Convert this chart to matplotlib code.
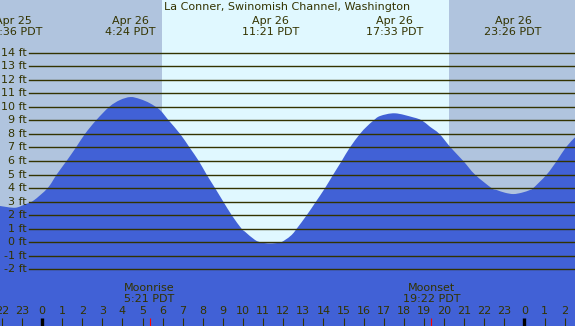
import matplotlib
matplotlib.use("Agg")
import matplotlib.pyplot as plt
import matplotlib.transforms as mtransforms
from matplotlib.path import Path
from matplotlib.patches import PathPatch

# ---- data (hours relative to Apr 26 00:00 PDT, heights in ft) ----
tide_hours = [-2.09, -1.34, -0.85, -0.43, 0.28, 0.73, 1.22, 1.69, 2.14, 2.69,
              3.35, 3.88, 4.40, 4.88, 5.37, 5.87, 6.30, 6.87, 7.34, 7.80,
              8.19, 8.61, 9.02, 9.44, 9.93, 10.10, 10.60, 10.93, 11.35, 11.84,
              12.09, 12.42, 12.67, 13.17, 13.63, 14.08, 14.49, 14.91, 15.32, 15.82,
              16.15, 16.48, 16.82, 17.56, 18.47, 18.89, 19.30, 19.77, 20.33, 20.96,
              21.54, 22.37, 22.62, 23.03, 23.45, 23.87, 24.28, 24.44, 25.11, 25.61,
              26.06, 26.52]
tide_ft = [2.68, 2.55, 2.80, 3.07, 4.0, 5.0, 6.0, 7.0, 8.0, 9.0,
           10.0, 10.5, 10.72, 10.57, 10.26, 9.76, 9.0, 8.0, 7.0, 6.0,
           5.0, 4.0, 3.0, 2.0, 1.0, 0.78, 0.17, -0.02, -0.08, -0.02,
           0.17, 0.54, 1.0, 2.0, 3.0, 4.0, 5.0, 6.0, 7.0, 8.0,
           8.53, 8.97, 9.32, 9.52, 9.22, 9.0, 8.53, 8.0, 7.0, 6.0,
           5.0, 4.0, 3.86, 3.66, 3.56, 3.66, 3.86, 4.0, 5.0, 6.0,
           7.0, 7.75]

extreme_hours = [-1.40, 4.40, 11.35, 17.55, 23.43]
extreme_labels = ["Apr 25\n22:36 PDT", "Apr 26\n4:24 PDT", "Apr 26\n11:21 PDT",
                  "Apr 26\n17:33 PDT", "Apr 26\n23:26 PDT"]

ft_levels = list(range(-2, 15))
hour_ticks = list(range(-2, 27))
sunrise, sunset = 5.97, 20.25
moon_hours = [5.35, 19.37]
moon_labels = ["Moonrise\n5:21 PDT", "Moonset\n19:22 PDT"]
title = "La Conner, Swinomish Channel, Washington"

# ---- layout ----
W, H = 575, 326
X0, PXH = 42.0, 20.1        # pixel x of hour 0, pixels per hour
Y0, PXF = 242.3, 13.55      # pixel y of 0 ft, pixels per ft

NIGHT = "#b0c4de"
DAY = "#e0f8ff"
WATER = "#4161d6"
INK = "#333300"

fig = plt.figure(figsize=(W / 100, H / 100), dpi=100)
ax = fig.add_axes([0, 0, 1, 1])
ax.set_xlim(-X0 / PXH, (W - X0) / PXH)
ax.set_ylim(-(H - Y0) / PXF, Y0 / PXF)
ax.axis("off")
fig.patch.set_facecolor(NIGHT)
ax.set_facecolor(NIGHT)

def fy(ypix):
    return 1 - ypix / H

blend = mtransforms.blended_transform_factory(ax.transData, ax.transAxes)

ax.axvspan(-10, sunrise, color=NIGHT, lw=0, zorder=0)
ax.axvspan(sunrise, sunset, color=DAY, lw=0, zorder=0)
ax.axvspan(sunset, 40, color=NIGHT, lw=0, zorder=0)

# smooth tide area: cubic Bezier path through the read points
pts = list(zip(tide_hours, tide_ft))
n = len(pts)
verts = [pts[0]]
codes = [Path.MOVETO]
for i in range(n - 1):
    p0 = pts[i - 1] if i > 0 else pts[i]
    p1 = pts[i]
    p2 = pts[i + 1]
    p3 = pts[i + 2] if i + 2 < n else pts[i + 1]
    c1 = (p1[0] + (p2[0] - p0[0]) / 6, p1[1] + (p2[1] - p0[1]) / 6)
    c2 = (p2[0] - (p3[0] - p1[0]) / 6, p2[1] - (p3[1] - p1[1]) / 6)
    verts += [c1, c2, p2]
    codes += [Path.CURVE4] * 3
verts += [(tide_hours[-1], -20), (tide_hours[0], -20), pts[0]]
codes += [Path.LINETO, Path.LINETO, Path.CLOSEPOLY]
ax.add_patch(PathPatch(Path(verts, codes), facecolor=WATER, lw=0, zorder=1))

for lv in ft_levels:
    ax.axhline(lv, xmin=29 / W, xmax=1, color=INK, lw=1.0, zorder=2)
    ax.text(26.5 / W, lv, f"{lv} ft",
            transform=mtransforms.blended_transform_factory(ax.transAxes, ax.transData),
            ha="right", va="center", fontsize=8, color=INK, zorder=3)

fs = 8
ax.text(0.5, fy(7.5), title, transform=ax.transAxes, ha="center", va="center",
        fontsize=fs, color=INK)
for h, lab in zip(extreme_hours, extreme_labels):
    ax.text(h, fy(26.5), lab, transform=blend, ha="center", va="center",
            fontsize=fs, color=INK, linespacing=1.05)

for h, lab in zip(moon_hours, moon_labels):
    ax.text(h, fy(293.5), lab, transform=blend, ha="center", va="center",
            fontsize=fs, color=INK, linespacing=1.05)

for h in hour_ticks:
    ax.text(h, fy(311.5), str(h % 24), transform=blend, ha="center", va="center",
            fontsize=fs, color=INK)
    if h % 24 == 0:
        ax.plot([h, h], [fy(318), fy(327)], transform=blend, color="black", lw=2.4,
                solid_capstyle="butt", zorder=4)
    else:
        ax.plot([h, h], [fy(318), fy(327)], transform=blend, color=INK, lw=0.8,
                solid_capstyle="butt", zorder=4)

for h in moon_hours:
    ax.plot([h, h], [fy(318), fy(327)], transform=blend, color="red", lw=0.8,
            solid_capstyle="butt", zorder=4)

fig.savefig("out.png", dpi=100, facecolor=NIGHT)
